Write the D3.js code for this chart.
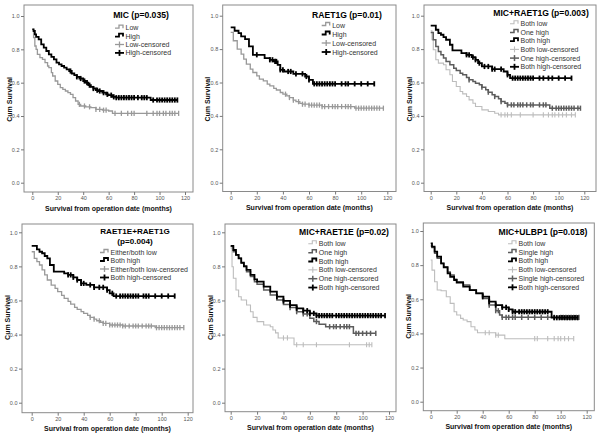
<!DOCTYPE html>
<html><head><meta charset="utf-8">
<script src="https://cdn.jsdelivr.net/npm/d3@7"></script>
<style>body{margin:0;background:#fff}svg{display:block}text{font-family:"Liberation Sans",Arial,sans-serif}</style>
</head><body><svg width="601" height="440"></svg>
<script>
// ---------- data ----------
const xTicks = [0, 20, 40, 60, 80, 100, 120];
const yTicks = [0, 0.2, 0.4, 0.6, 0.8, 1.0];
const xTitle = "Survival from operation date (months)";
const yTitle = "Cum Survival";
const panelTitles = [["MIC (p=0.035)"], ["RAET1G (p=0.01)"], ["MIC+RAET1G (p=0.003)"], ["RAET1E+RAET1G", "(p=0.004)"], ["MIC+RAET1E (p=0.02)"], ["MIC+ULBP1 (p=0.018)"]];
const panelGroups = [["Low", "High"], ["Low", "High"], ["Both low", "One high", "Both high"], ["Either/both low", "Both high"], ["Both low", "One high", "Both high"], ["Both low", "Single high", "Both high"]];

// Panel 1: MIC
const micLowT = [0,1,2,3,4,6,8,10,12,13,15,16,18,20,22,24,26,28,30,32,34,36,38,42,46,50,55,60,63];
const micLowS = [0.92,0.87,0.82,0.80,0.77,0.75,0.74,0.72,0.70,0.69,0.66,0.64,0.61,0.59,0.57,0.56,0.55,0.54,0.53,0.51,0.49,0.47,0.46,0.455,0.45,0.44,0.435,0.43,0.416];
const micLowC = [37,41,45,50,53,56,58,65,70,75,78,80,90,95,98,100,103,105,108,110,112,115];
const micHighT = [0,1,2,3,5,7,9,11,13,15,17,19,21,23,25,27,29,31,33,35,37,40,42,44,46,48,50,52,55,58,60,63,66,93];
const micHighS = [0.92,0.91,0.89,0.875,0.86,0.83,0.81,0.79,0.77,0.755,0.74,0.72,0.71,0.70,0.69,0.68,0.67,0.655,0.645,0.635,0.625,0.61,0.60,0.585,0.575,0.565,0.555,0.55,0.54,0.53,0.525,0.515,0.51,0.496];
const micHighC = [30,35,38,41,43,45,48,51,53,56,59,62,64,66,68,70,72,74,76,78,80,83,86,88,90,95,98,100,102,104,106,108,110,112,114];

// Panel 2: RAET1G
const rgLowT = [0,2,5,8,10,12,15,17,20,22,25,28,30,33,35,38,40,43,45,48,50,53,55,60,70,95];
const rgLowS = [0.90,0.85,0.80,0.77,0.74,0.71,0.68,0.66,0.64,0.62,0.61,0.59,0.58,0.565,0.555,0.54,0.53,0.52,0.51,0.495,0.485,0.475,0.47,0.465,0.456,0.446];
const rgLowC = [42,45,48,52,55,57,60,62,64,66,68,70,72,75,78,80,82,85,88,90,92,96,98,100,102,104,106,108,110,112,114,117];
const rgHighT = [0,3,6,8,11,14,17,26,30,33,36,38,41,48,57,60,63];
const rgHighS = [0.93,0.91,0.896,0.876,0.86,0.816,0.766,0.746,0.736,0.726,0.706,0.676,0.666,0.652,0.636,0.616,0.592];
const rgHighC = [20,30,32,34,35,38,40,44,46,50,55,58,60,64,66,68,70,72,74,76,78,80,85,88,90,95,100,105,110];

// Panel 3: MIC+RAET1G
const mgLowT = [0,1,2,4,6,10,12,15,17,20,23,25,28,30,33,35,40,45,50,53];
const mgLowS = [0.91,0.856,0.796,0.736,0.716,0.706,0.676,0.646,0.606,0.576,0.546,0.532,0.516,0.496,0.476,0.456,0.436,0.426,0.416,0.406];
const mgLowC = [55,58,60,63,70,80,88,92,95,97,100,103,106,110,113];
const mgOneT = [0,2,4,6,8,10,12,15,18,20,23,25,28,30,33,35,38,40,43,45,48,50,53,55,58,60,93];
const mgOneS = [0.90,0.856,0.816,0.786,0.766,0.746,0.726,0.706,0.686,0.672,0.656,0.646,0.63,0.616,0.606,0.596,0.586,0.572,0.556,0.542,0.526,0.516,0.502,0.486,0.476,0.466,0.446];
const mgOneC = [30,40,45,50,55,60,63,65,68,70,72,75,78,80,85,88,90,95,98,100,102,104,106,108,110,112,115,117];
const mgBothT = [0,4,6,8,10,12,15,17,24,28,32,35,37,40,48,57,60,62];
const mgBothS = [0.94,0.916,0.896,0.886,0.872,0.856,0.826,0.792,0.776,0.766,0.752,0.736,0.716,0.696,0.68,0.666,0.646,0.626];
const mgBothC = [28,30,33,35,38,42,45,48,50,55,60,64,66,68,70,72,74,76,78,80,85,88,92,95,100,105,110];

// Panel 4: RAET1E+RAET1G
const egLowT = [0,2,4,6,8,10,12,15,18,20,23,25,28,30,33,35,38,40,43,45,48,50,53,55,60,70,95];
const egLowS = [0.886,0.847,0.828,0.808,0.779,0.75,0.72,0.69,0.671,0.652,0.63,0.612,0.595,0.579,0.56,0.548,0.535,0.524,0.512,0.501,0.49,0.481,0.472,0.466,0.456,0.45,0.44];
const egLowC = [45,48,52,55,57,60,62,64,66,68,70,72,75,78,80,82,85,88,90,92,96,98,100,102,104,106,108,110,112,114,117];
const egHighT = [0,4,6,8,10,12,14,17,25,28,32,35,38,42,48,58,60,63];
const egHighS = [0.92,0.90,0.886,0.877,0.861,0.847,0.808,0.769,0.759,0.75,0.736,0.72,0.70,0.691,0.677,0.661,0.642,0.626];
const egHighC = [28,30,32,35,38,40,45,48,52,55,58,62,65,68,70,72,74,76,78,80,82,86,88,90,95,100,105,110];

// Panel 5: MIC+RAET1E
const meLowT = [0,1,2,4,6,8,12,15,17,20,25,30,32,34,36,48];
const meLowS = [0.906,0.798,0.73,0.661,0.622,0.603,0.573,0.534,0.501,0.476,0.456,0.446,0.427,0.41,0.38,0.34];
const meLowC = [40,43,50,55,65,90,103,105,107];
const meOneT = [0,2,4,6,8,10,12,15,18,20,25,30,35,40,45,50,55,60,63,67,72,93];
const meOneS = [0.916,0.886,0.867,0.847,0.818,0.798,0.769,0.74,0.71,0.695,0.661,0.632,0.603,0.577,0.558,0.534,0.521,0.495,0.476,0.46,0.446,0.407];
const meOneC = [45,50,55,58,65,75,78,80,83,86,88,90,95,97,100,103,106,110];
const meBothT = [0,2,4,6,8,10,12,15,18,20,25,30,35,40,45,50,55,60,65];
const meBothS = [0.92,0.896,0.867,0.847,0.822,0.802,0.779,0.75,0.724,0.71,0.681,0.652,0.622,0.597,0.573,0.554,0.54,0.524,0.511];
const meBothC = [35,40,45,50,55,58,60,63,65,67,69,71,73,75,77,80,82,84,86,88,90,92,94,96,98,100,102,104,106,108,110,112,114,117];

// Panel 6: MIC+ULBP1
const muLowT = [0,1,3,5,8,12,15,18,20,23,25,28,31,34,36,50,57];
const muLowS = [0.83,0.771,0.703,0.654,0.65,0.615,0.576,0.527,0.508,0.488,0.479,0.469,0.439,0.42,0.404,0.39,0.369];
const muLowC = [42,45,50,52,80,82,90,95,98,100,103,106,110];
const muOneT = [0,1,3,5,8,10,13,15,18,20,25,30,35,40,45,50,53,55];
const muOneS = [0.912,0.904,0.87,0.84,0.81,0.79,0.76,0.742,0.717,0.703,0.684,0.654,0.635,0.605,0.566,0.533,0.508,0.494];
const muOneC = [45,50,52,55,58,60,63,65,70,75,80,85,90,95,100,102,104,106,108,110,112,114];
const muBothT = [0,1,3,5,8,10,13,15,18,20,25,30,35,40,45,50,55,60,63,93];
const muBothS = [0.928,0.908,0.879,0.85,0.81,0.787,0.752,0.732,0.713,0.697,0.674,0.654,0.635,0.615,0.586,0.566,0.553,0.541,0.527,0.492];
const muBothC = [40,45,50,55,58,60,63,65,68,70,72,74,76,78,80,82,84,86,88,90,95,97,99,101,103,105,107,109,111,113];

const panelSeries = [
  [[micLowT, micLowS, micLowC], [micHighT, micHighS, micHighC]],
  [[rgLowT, rgLowS, rgLowC], [rgHighT, rgHighS, rgHighC]],
  [[mgLowT, mgLowS, mgLowC], [mgOneT, mgOneS, mgOneC], [mgBothT, mgBothS, mgBothC]],
  [[egLowT, egLowS, egLowC], [egHighT, egHighS, egHighC]],
  [[meLowT, meLowS, meLowC], [meOneT, meOneS, meOneC], [meBothT, meBothS, meBothC]],
  [[muLowT, muLowS, muLowC], [muOneT, muOneS, muOneC], [muBothT, muBothS, muBothC]]
];

// ---------- layout / style ----------
const layout = [
  {fl:24, ft:5, fr:193, fb:192, x0:32.3, x1:185, yb:182.7, yt:16, tx:141, ty:[18], tf:8.6, lx:115, ly:27.7, ls:8.4},
  {fl:222.7, ft:5, fr:396, fb:191.5, x0:230.7, x1:387.3, yb:182.7, yt:15.7, tx:347, ty:[18], tf:8.6, lx:321.7, ly:25, ls:9},
  {fl:424, ft:5, fr:596, fb:191.5, x0:430.7, x1:584.3, yb:182.7, yt:15.7, tx:541, ty:[16], tf:8.6, lx:510, ly:23.3, ls:8.7},
  {fl:22, ft:224, fr:193, fb:412.7, x0:31.7, x1:187.7, yb:402.7, yt:232.3, tx:135, ty:[234, 243.5], tf:8.1, lx:100, ly:252, ls:8.5},
  {fl:225, ft:224, fr:396, fb:411.7, x0:230.7, x1:389, yb:402.7, yt:232.3, tx:344, ty:[235.3], tf:8.6, lx:308.3, ly:243.3, ls:8.85},
  {fl:423.3, ft:223, fr:594.3, fb:410.7, x0:430.7, x1:586.7, yb:401.7, yt:231, tx:543, ty:[235.3], tf:8.6, lx:508, ly:243.3, ls:8.8}
];
const style2 = {col:["#999999", "#000000"], w:[1.3, 1.8]};
const style3 = {col:["#bdbdbd", "#5c5c5c", "#000000"], w:[1.1, 1.5, 1.8]};

const svg = d3.select("svg");

layout.forEach((L, pi) => {
  const g = svg.append("g");
  const x = d3.scaleLinear().domain([0, 120]).range([L.x0, L.x1]);
  const y = d3.scaleLinear().domain([0, 1]).range([L.yb, L.yt]);
  const series = panelSeries[pi];
  const st = series.length === 3 ? style3 : style2;

  // frame
  g.append("rect").attr("x", L.fl).attr("y", L.ft).attr("width", L.fr - L.fl).attr("height", L.fb - L.ft)
    .attr("fill", "none").attr("stroke", "#8a8a8a").attr("stroke-width", 1);

  // axes
  const ax = g.append("g").attr("transform", `translate(0,${L.fb})`)
    .call(d3.axisBottom(x).tickValues(xTicks).tickSize(3).tickPadding(1.5).tickFormat(d3.format("d")));
  const ay = g.append("g").attr("transform", `translate(${L.fl},0)`)
    .call(d3.axisLeft(y).tickValues(yTicks).tickSize(3).tickPadding(1.5).tickFormat(d3.format(".1f")));
  [ax, ay].forEach(a => {
    a.select(".domain").remove();
    a.selectAll("line").attr("stroke", "#777");
    a.selectAll("text").attr("fill", "#555").style("font-size", "5.5px").style("font-family", '"Liberation Sans",Arial,sans-serif');
  });

  // axis titles
  g.append("text").attr("x", (L.fl + L.fr) / 2).attr("y", L.fb + 18.5).attr("text-anchor", "middle")
    .style("font-size", "7px").style("font-weight", "bold").attr("fill", "#111").text(xTitle);
  g.append("text").attr("transform", `translate(${L.fl - 12.5},${(L.yt + L.yb) / 2}) rotate(-90)`).attr("text-anchor", "middle")
    .style("font-size", "7px").style("font-weight", "bold").attr("fill", "#111").text(yTitle);

  // curves
  const line = d3.line().x(d => x(d[0])).y(d => y(d[1])).curve(d3.curveStepAfter);
  series.forEach((s, si) => {
    const [T, S, C] = s;
    const tEnd = Math.max(d3.max(C), d3.max(T));
    const pts = T.map((t, i) => [t, S[i]]);
    pts.push([tEnd, S[S.length - 1]]);
    g.append("path").attr("d", line(pts)).attr("fill", "none").attr("stroke", st.col[si]).attr("stroke-width", st.w[si]);
    C.forEach(c => {
      const idx = d3.bisectRight(T, c) - 1;
      const v = S[Math.max(0, idx)];
      g.append("line").attr("x1", x(c)).attr("x2", x(c)).attr("y1", y(v) - 2.6).attr("y2", y(v) + 2.6)
        .attr("stroke", st.col[si]).attr("stroke-width", st.w[si]);
    });
  });

  // title
  panelTitles[pi].forEach((t, i) => {
    g.append("text").attr("x", L.tx).attr("y", L.ty[i]).attr("text-anchor", "middle")
      .style("font-size", L.tf + "px").attr("fill", "#000").style("font-weight", "bold").text(t);
  });

  // legend
  const names = panelGroups[pi];
  const entries = [];
  names.forEach((n, i) => entries.push({label: n, type: "line", i}));
  names.forEach((n, i) => entries.push({label: n + "-censored", type: "cens", i}));
  entries.forEach((e, k) => {
    const yy = L.ly + k * L.ls;
    const col = st.col[e.i], w = st.w[e.i];
    if (e.type === "line") {
      g.append("path").attr("d", `M${L.lx},${yy + 0.5}H${L.lx + 4}V${yy - 2.5}H${L.lx + 8}V${yy + 0.5}`)
        .attr("fill", "none").attr("stroke", col).attr("stroke-width", w);
    } else {
      g.append("line").attr("x1", L.lx).attr("x2", L.lx + 9).attr("y1", yy).attr("y2", yy).attr("stroke", col).attr("stroke-width", w);
      g.append("line").attr("x1", L.lx + 4.5).attr("x2", L.lx + 4.5).attr("y1", yy - 3).attr("y2", yy + 3).attr("stroke", col).attr("stroke-width", w);
    }
    g.append("text").attr("x", L.lx + 10.5).attr("y", yy + 2.5).style("font-size", "7px").attr("fill", "#333").text(e.label);
  });
});
</script></body></html>
